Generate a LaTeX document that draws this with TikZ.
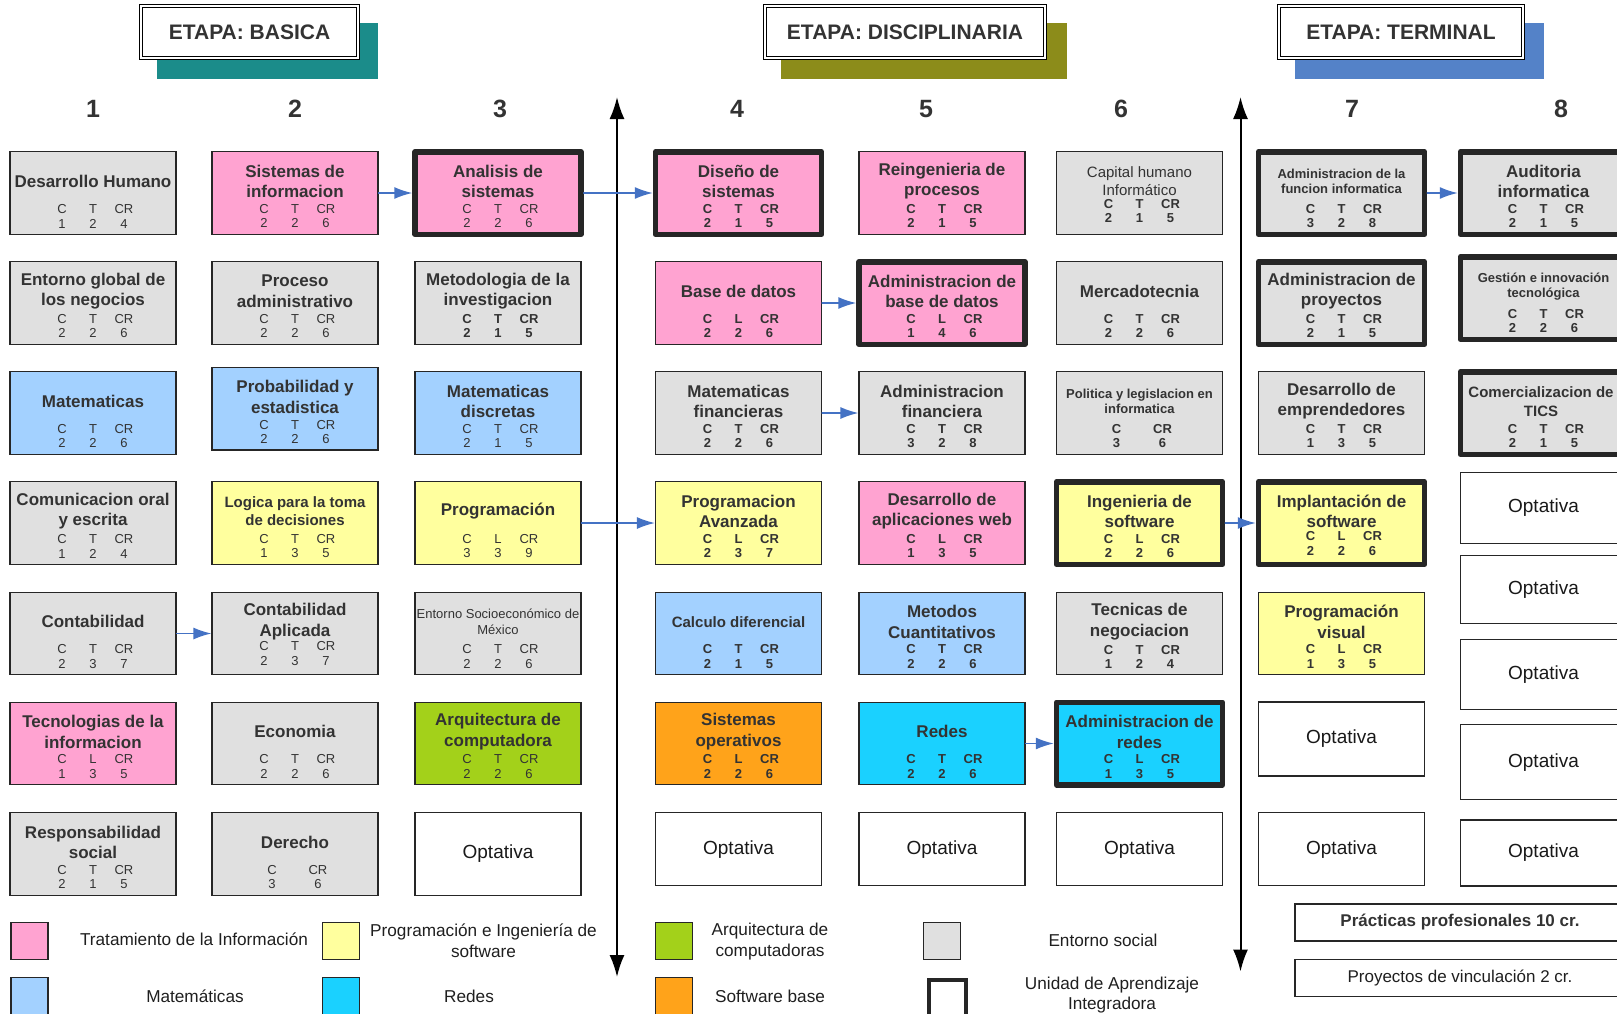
\documentclass[tikz,border=0pt]{standalone}
\usepackage{fontspec}
\setmainfont{Liberation Sans}
\usetikzlibrary{arrows.meta, calc}

\definecolor{rosa}{RGB}{255,163,209}
\definecolor{amarillo}{RGB}{255,255,158}
\definecolor{celeste}{RGB}{163,209,255}
\definecolor{cian}{RGB}{26,209,255}
\definecolor{verde}{RGB}{163,209,26}
\definecolor{naranja}{RGB}{255,163,26}
\definecolor{gris}{RGB}{224,224,224}
\definecolor{textgris}{RGB}{51,51,51}
\definecolor{azul}{RGB}{68,114,196}
\definecolor{sombraA}{RGB}{27,140,138}
\definecolor{sombraB}{RGB}{140,140,26}
\definecolor{sombraC}{RGB}{84,130,200}

% creditos: C T CR / valores
\newcommand{\ctcr}[6]{\makebox[31pt]{#1}\makebox[31pt]{#2}\makebox[31pt]{#3}\\\makebox[31pt]{#4}\makebox[31pt]{#5}\makebox[31pt]{#6}}
\newcommand{\ccr}[2]{\makebox[46pt]{C}\makebox[46pt]{CR}\\\makebox[46pt]{#1}\makebox[46pt]{#2}}
% materia: estilo caja, estilo titulo, estilo creditos, nombre, posicion, titulo, creditos
\newcommand{\materia}[7]{%
	\node[caja,#1] (#4) at (#5) {};
	\node[titulo,#2] (#4-t) at ([yshift=11.75pt]#4.center) {#6};
	\node[codigo,#3] (#4-c) at ([yshift=-23.25pt]#4.center) {#7};
}

\begin{document}
\begin{tikzpicture}[x=1pt, y=-1pt, >=Latex, line cap=round,
	caja/.style={draw=black!85, line width=1.2pt, minimum width=166pt, minimum height=82.5pt, inner sep=0pt},
	gruesa/.style={line width=5.5pt, line join=round},
	titulo/.style={font=\bfseries\fontsize{17}{20.5}\selectfont, text=textgris, align=center, inner sep=0pt},
	chico/.style={font=\bfseries\fontsize{15}{18.5}\selectfont},
	mini/.style={font=\bfseries\fontsize{13}{15}\selectfont},
	codigo/.style={font=\fontsize{13}{14.5}\selectfont, text=textgris, align=center, inner sep=0pt},
	cb/.style={font=\bfseries\fontsize{13}{14.5}\selectfont},
	opt/.style={caja, fill=white, font=\fontsize{19}{22}\selectfont, text=black!90},
	flecha/.style={-{Latex[length=18pt,width=12pt]}, draw=azul, line width=1.5pt},
	eje/.style={{Latex[length=22pt,width=15pt]}-{Latex[length=22pt,width=15pt]}, line width=2pt},
	etapa/.style={draw=black, line width=1pt, double=white, double distance=2.5pt, fill=white, minimum height=52pt,
		font=\bfseries\fontsize{21}{25}\selectfont, text=textgris},
	num/.style={font=\bfseries\fontsize{25}{28}\selectfont, text=textgris},
	muestra/.style={draw=black!85, line width=1.3pt, minimum width=37pt, minimum height=37pt, inner sep=0pt},
	leyenda/.style={font=\fontsize{17.2}{20.5}\selectfont, text=black!88, align=center}]
\useasboundingbox (0,0) rectangle (1617,1013);
\clip (0,0) rectangle (1617,1013);

%========================
% Etapas
%========================
\fill[sombraA] (157,23) rectangle (378,79);
\node[etapa, minimum width=217pt] (basica) at (249.5,32) {ETAPA: BASICA};
\fill[sombraB] (781,23) rectangle (1067,79);
\node[etapa, minimum width=280pt] (disciplinaria) at (905,32) {ETAPA: DISCIPLINARIA};
\fill[sombraC] (1295,23) rectangle (1544,79);
\node[etapa, minimum width=244pt] (terminal) at (1401,32) {ETAPA: TERMINAL};

% semestres
\foreach \n/\x in {1/93, 2/295, 3/500, 4/737, 5/926, 6/1121, 7/1352, 8/1561}
	\node[num] (sem\n) at (\x,109) {\n};

% ejes
\coordinate (ejeA-arriba) at (617,97);
\coordinate (ejeA-abajo) at (617,977);
\coordinate (ejeB-arriba) at (1240.5,97);
\coordinate (ejeB-abajo) at (1240.5,971.5);
\draw[eje] (ejeA-arriba) -- (ejeA-abajo);
\draw[eje] (ejeB-arriba) -- (ejeB-abajo);

%========================
% Basica
%========================
\materia{fill=gris}{}{}{desHum}{93,193}{Desarrollo Humano}{\ctcr{C}{T}{CR}{1}{2}{4}}
\materia{fill=gris}{}{}{entGlob}{93,303}{Entorno global de\\los negocios}{\ctcr{C}{T}{CR}{2}{2}{6}}
\materia{fill=celeste}{}{}{mat}{93,413}{Matematicas}{\ctcr{C}{T}{CR}{2}{2}{6}}
\materia{fill=gris}{}{}{comOral}{93,523}{Comunicacion oral\\y escrita}{\ctcr{C}{T}{CR}{1}{2}{4}}
\materia{fill=gris}{}{}{conta}{93,633.5}{Contabilidad}{\ctcr{C}{T}{CR}{2}{3}{7}}
\materia{fill=rosa}{}{}{tecInf}{93,743.5}{Tecnologias de la\\informacion}{\ctcr{C}{L}{CR}{1}{3}{5}}
\materia{fill=gris}{}{}{respSoc}{93,854}{Responsabilidad\\social}{\ctcr{C}{T}{CR}{2}{1}{5}}

\materia{fill=rosa}{}{}{sisInf}{295,193}{Sistemas de\\informacion}{\ctcr{C}{T}{CR}{2}{2}{6}}
\materia{fill=gris}{}{}{procAdm}{295,303}{Proceso\\administrativo}{\ctcr{C}{T}{CR}{2}{2}{6}}
\materia{fill=celeste}{}{}{probEst}{295,408.7}{Probabilidad y\\estadistica}{\ctcr{C}{T}{CR}{2}{2}{6}}
\materia{fill=amarillo}{chico}{}{logica}{295,523}{Logica para la toma\\de decisiones}{\ctcr{C}{T}{CR}{1}{3}{5}}
\materia{fill=gris}{}{yshift=3pt}{contaApl}{295,633.5}{Contabilidad\\Aplicada}{\ctcr{C}{T}{CR}{2}{3}{7}}
\materia{fill=gris}{}{}{econ}{295,743.5}{Economia}{\ctcr{C}{T}{CR}{2}{2}{6}}
\materia{fill=gris}{}{}{derecho}{295,854}{Derecho}{\ccr{3}{6}}

\materia{fill=rosa, gruesa}{}{}{anaSis}{498,193}{Analisis de\\sistemas}{\ctcr{C}{T}{CR}{2}{2}{6}}
\materia{fill=gris}{}{cb}{metInv}{498,303}{Metodologia de la\\investigacion}{\ctcr{C}{T}{CR}{2}{1}{5}}
\materia{fill=celeste}{}{}{matDis}{498,413}{Matematicas\\discretas}{\ctcr{C}{T}{CR}{2}{1}{5}}
\materia{fill=amarillo}{}{}{prog}{498,523}{Programación}{\ctcr{C}{L}{CR}{3}{3}{9}}
\materia{fill=gris}{font=\fontsize{13}{16}\selectfont}{}{entSoc}{498,633.5}{Entorno Socioeconómico de\\México}{\ctcr{C}{T}{CR}{2}{2}{6}}
\materia{fill=verde}{}{}{arqComp}{498,743.5}{Arquitectura de\\computadora}{\ctcr{C}{T}{CR}{2}{2}{6}}
\node[opt] (opt3) at (498,854) {Optativa};

%========================
% Disciplinaria
%========================
\materia{fill=rosa, gruesa}{}{cb}{disSis}{738.5,193}{Diseño de\\sistemas}{\ctcr{C}{T}{CR}{2}{1}{5}}
\materia{fill=rosa}{}{cb}{baseDat}{738.5,303}{Base de datos}{\ctcr{C}{L}{CR}{2}{2}{6}}
\materia{fill=gris}{}{cb}{matFin}{738.5,413}{Matematicas\\financieras}{\ctcr{C}{T}{CR}{2}{2}{6}}
\materia{fill=amarillo}{}{cb}{progAv}{738.5,523}{Programacion\\Avanzada}{\ctcr{C}{L}{CR}{2}{3}{7}}
\materia{fill=celeste}{chico}{cb}{calDif}{738.5,633.5}{Calculo diferencial}{\ctcr{C}{T}{CR}{2}{1}{5}}
\materia{fill=naranja}{}{cb}{sisOp}{738.5,743.5}{Sistemas\\operativos}{\ctcr{C}{L}{CR}{2}{2}{6}}
\node[opt, minimum height=73pt] (opt4) at (738.5,849.3) {Optativa};

\materia{fill=rosa}{}{cb}{reing}{942,193}{Reingenieria de\\procesos}{\ctcr{C}{T}{CR}{2}{1}{5}}
\materia{fill=rosa, gruesa}{}{cb}{admBD}{942,303}{Administracion de\\base de datos}{\ctcr{C}{L}{CR}{1}{4}{6}}
\materia{fill=gris}{}{cb}{admFin}{942,413}{Administracion\\financiera}{\ctcr{C}{T}{CR}{3}{2}{8}}
\materia{fill=rosa}{}{cb}{appWeb}{942,523}{Desarrollo de\\aplicaciones web}{\ctcr{C}{L}{CR}{1}{3}{5}}
\materia{fill=celeste}{}{cb}{metCuant}{942,633.5}{Metodos\\Cuantitativos}{\ctcr{C}{T}{CR}{2}{2}{6}}
\materia{fill=cian}{}{cb}{redes}{942,743.5}{Redes}{\ctcr{C}{T}{CR}{2}{2}{6}}
\node[opt, minimum height=73pt] (opt5) at (942,849.3) {Optativa};

\materia{fill=gris}{font=\fontsize{15}{18.5}\selectfont}{cb, yshift=5pt}{capHum}{1139.5,193}{Capital humano\\Informático}{\ctcr{C}{T}{CR}{2}{1}{5}}
\materia{fill=gris}{}{cb}{merca}{1139.5,303}{Mercadotecnia}{\ctcr{C}{T}{CR}{2}{2}{6}}
\materia{fill=gris}{mini}{cb}{politica}{1139.5,413}{Politica y legislacion en\\informatica}{\ccr{3}{6}}
\materia{fill=amarillo, gruesa}{}{cb}{ingSoft}{1139.5,523}{Ingenieria de\\software}{\ctcr{C}{L}{CR}{2}{2}{6}}
\materia{fill=gris}{}{cb}{tecNeg}{1139.5,633.5}{Tecnicas de\\negociacion}{\ctcr{C}{T}{CR}{1}{2}{4}}
\materia{fill=cian, gruesa}{}{cb}{admRedes}{1139.5,743.5}{Administracion de\\redes}{\ctcr{C}{L}{CR}{1}{3}{5}}
\node[opt, minimum height=73pt] (opt6) at (1139.5,849.3) {Optativa};

%========================
% Terminal
%========================
\materia{fill=gris, gruesa}{mini}{cb}{admFunc}{1341.5,193}{Administracion de la\\funcion informatica}{\ctcr{C}{T}{CR}{3}{2}{8}}
\materia{fill=gris, gruesa}{}{cb}{admProy}{1341.5,303}{Administracion de\\proyectos}{\ctcr{C}{T}{CR}{2}{1}{5}}
\materia{fill=gris}{}{cb}{desEmp}{1341.5,413}{Desarrollo de\\emprendedores}{\ctcr{C}{T}{CR}{1}{3}{5}}
\materia{fill=amarillo, gruesa}{}{cb, yshift=2.5pt}{implSoft}{1341.5,523}{Implantación de\\software}{\ctcr{C}{L}{CR}{2}{2}{6}}
\materia{fill=amarillo}{}{cb}{progVis}{1341.5,633.5}{Programación\\visual}{\ctcr{C}{L}{CR}{1}{3}{5}}
\node[opt, minimum height=74pt] (opt7a) at (1341.5,739) {Optativa};
\node[opt, minimum height=73pt] (opt7b) at (1341.5,849.3) {Optativa};

\materia{fill=gris, gruesa}{}{cb}{auditoria}{1543.5,193}{Auditoria\\informatica}{\ctcr{C}{T}{CR}{2}{1}{5}}
\materia{fill=gris, gruesa}{mini}{cb}{gestion}{1543.5,298}{Gestión e innovación\\tecnológica}{\ctcr{C}{T}{CR}{2}{2}{6}}
\materia{fill=gris, gruesa}{font=\bfseries\fontsize{15}{19}\selectfont, xshift=-2.5pt}{cb}{comerc}{1543.5,413}{Comercializacion de\\TICS}{\ctcr{C}{T}{CR}{2}{1}{5}}
\node[opt, minimum height=71pt] (opt8a) at (1543.5,507.7) {Optativa};
\node[opt, minimum height=68pt] (opt8b) at (1543.5,589.8) {Optativa};
\node[opt, minimum height=70pt] (opt8c) at (1543.5,674.8) {Optativa};
\node[opt, minimum height=75pt] (opt8d) at (1543.5,762.3) {Optativa};
\node[opt, minimum height=66pt] (opt8e) at (1543.5,853) {Optativa};

% seriaciones
\draw[flecha] (sisInf.east) -- (anaSis.west);
\draw[flecha] (anaSis.east) -- (disSis.west);
\draw[flecha] (prog.east) -- (progAv.west);
\draw[flecha] (conta.east) -- (contaApl.west);
\draw[flecha] (baseDat.east) -- (admBD.west);
\draw[flecha] (matFin.east) -- (admFin.west);
\draw[flecha] (redes.east) -- (admRedes.west);
\draw[flecha] (ingSoft.east) -- (implSoft.west);
\draw[flecha] (admFunc.east) -- (auditoria.west);

%========================
% Leyenda
%========================
\node[muestra, fill=rosa] (lRosa) at (29.5,941) {};
\node[leyenda] (tRosa) at (194,939) {Tratamiento de la Información};
\node[muestra, fill=celeste] (lCeleste) at (29.5,996) {};
\node[leyenda] (tCeleste) at (195,996) {Matemáticas};
\node[muestra, fill=amarillo] (lAmarillo) at (341.3,941) {};
\node[leyenda] (tAmarillo) at (483.5,940.5) {Programación e Ingeniería de\\software};
\node[muestra, fill=cian] (lCian) at (341.3,996) {};
\node[leyenda] (tCian) at (469,996) {Redes};
\node[muestra, fill=verde] (lVerde) at (674,941) {};
\node[leyenda] (tVerde) at (770,941.7) {Arquitectura de\\computadoras};
\node[muestra, fill=naranja] (lNaranja) at (674,996) {};
\node[leyenda] (tNaranja) at (770,996) {Software base};
\node[muestra, fill=gris] (lGris) at (942,941) {};
\node[leyenda] (tGris) at (1103,940) {Entorno social};
\node[muestra, fill=white, line width=4pt] (lUnidad) at (947,998) {};
\node[leyenda] (tUnidad) at (1112,995) {Unidad de Aprendizaje\\Integradora};

\node[draw=black!85, line width=1.2pt, minimum width=330pt, minimum height=37pt,
	font=\bfseries\fontsize{17}{19}\selectfont, text=textgris] (practicas) at (1460,922.5) {Prácticas profesionales 10 cr.};
\node[draw=black!85, line width=1.2pt, minimum width=330pt, minimum height=37pt,
	font=\fontsize{17}{19}\selectfont, text=black!88] (vinculacion) at (1460,978) {Proyectos de vinculación 2 cr.};
\end{tikzpicture}
\end{document}
